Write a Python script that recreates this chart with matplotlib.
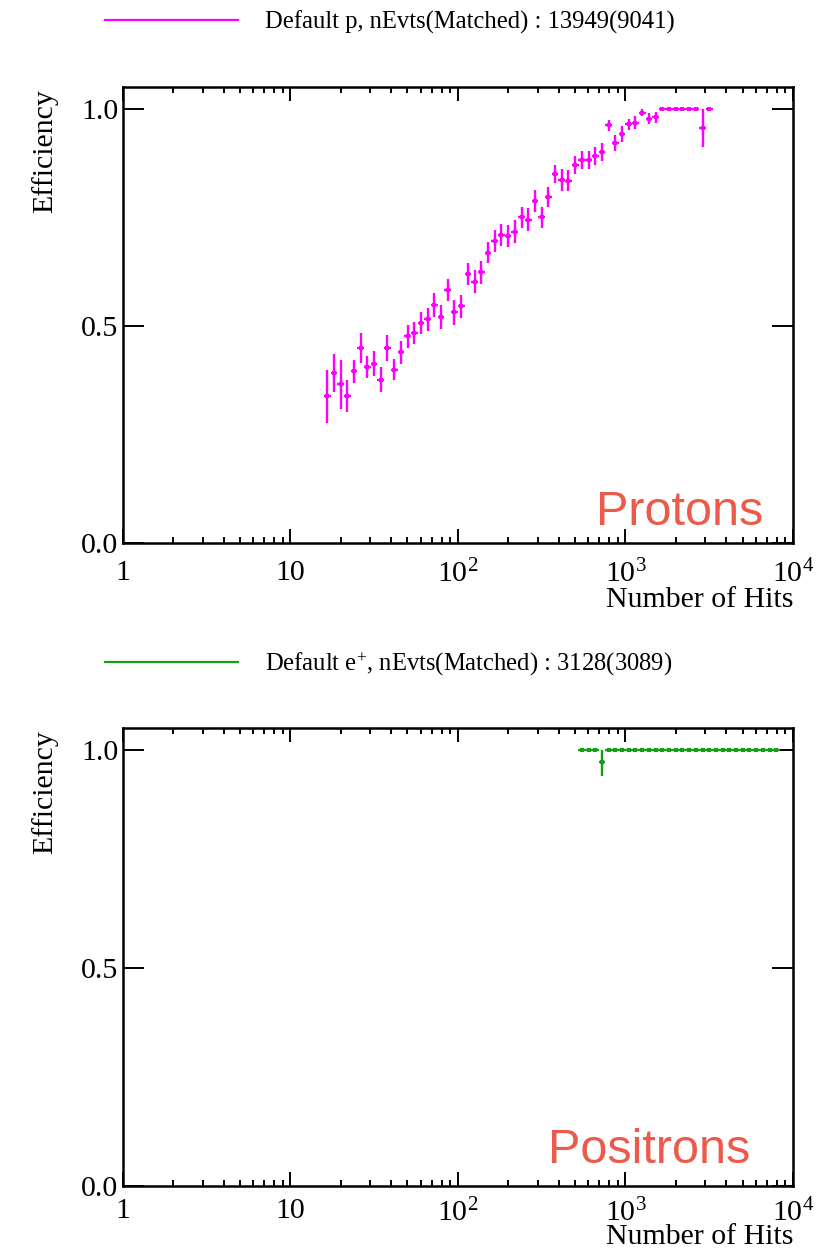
import numpy as np
import matplotlib
matplotlib.use('Agg')
import matplotlib.pyplot as plt
from matplotlib.lines import Line2D
from matplotlib.ticker import FixedLocator, FixedFormatter, LogLocator, NullLocator

# Times-like serif, as in the ROOT canvas
plt.rcParams['font.family'] = ['Liberation Serif', 'DejaVu Serif']
plt.rcParams['mathtext.fontset'] = 'custom'
plt.rcParams['mathtext.rm'] = 'Liberation Serif'
plt.rcParams['mathtext.it'] = 'Liberation Serif:italic'

# histogram binning: 25 log bins per decade
LOG_BIN = 0.04

# protons: bin centres (number of hits), efficiency, error
proton_hits = [16.60, 18.20, 19.95, 21.88, 23.99, 26.30, 28.84, 31.62, 34.67, 38.02,
               41.69, 45.71, 50.12, 54.95, 60.26, 66.07, 72.44, 79.43, 87.10, 95.50,
               104.7, 114.8, 125.9, 138.0, 151.4, 166.0, 182.0, 199.5, 218.8, 239.9,
               263.0, 288.4, 316.2, 346.7, 380.2, 416.9, 457.1, 501.2, 549.5, 602.6,
               660.7, 724.4, 794.3, 871.0, 955.0, 1047, 1148, 1259, 1380, 1514,
               1660, 1820, 1995, 2188, 2399, 2630, 2884, 3162]
proton_eff = [0.338, 0.391, 0.365, 0.338, 0.395, 0.449, 0.405, 0.413, 0.376, 0.449,
              0.399, 0.439, 0.476, 0.483, 0.506, 0.515, 0.548, 0.520, 0.583, 0.531,
              0.545, 0.619, 0.602, 0.623, 0.669, 0.696, 0.709, 0.707, 0.717, 0.750,
              0.745, 0.788, 0.750, 0.797, 0.850, 0.836, 0.835, 0.870, 0.883, 0.882,
              0.891, 0.901, 0.962, 0.921, 0.942, 0.965, 0.968, 0.991, 0.978, 0.981,
              1.0, 1.0, 1.0, 1.0, 1.0, 1.0, 0.956, 1.0]
proton_err = [0.061, 0.044, 0.057, 0.036, 0.027, 0.034, 0.026, 0.029, 0.028, 0.031,
              0.025, 0.026, 0.026, 0.026, 0.025, 0.027, 0.027, 0.027, 0.026, 0.028,
              0.027, 0.025, 0.027, 0.026, 0.025, 0.025, 0.025, 0.026, 0.026, 0.025,
              0.026, 0.025, 0.025, 0.024, 0.021, 0.025, 0.024, 0.021, 0.021, 0.021,
              0.021, 0.021, 0.013, 0.018, 0.018, 0.013, 0.015, 0.008, 0.013, 0.013,
              0.0, 0.0, 0.0, 0.0, 0.0, 0.0, 0.043, 0.0]

# positrons
positron_hits = [549.5, 602.6, 660.7, 724.4, 794.3, 871.0, 955.0, 1047, 1148, 1259,
                 1380, 1514, 1660, 1820, 1995, 2188, 2399, 2630, 2884, 3162,
                 3467, 3802, 4169, 4571, 5012, 5495, 6026, 6607, 7244, 7943]
positron_eff = [1.0, 1.0, 1.0, 0.971, 1.0, 1.0, 1.0, 1.0, 1.0, 1.0,
                1.0, 1.0, 1.0, 1.0, 1.0, 1.0, 1.0, 1.0, 1.0, 1.0,
                1.0, 1.0, 1.0, 1.0, 1.0, 1.0, 1.0, 1.0, 1.0, 1.0]
positron_err_lo = [0.0, 0.0, 0.0, 0.030] + [0.0] * 26
positron_err_hi = [0.0, 0.0, 0.0, 0.029] + [0.0] * 26

x_ticks = [1, 10, 100, 1000, 10000]
x_tick_labels = ['1', '10', '$10^{2}$', '$10^{3}$', '$10^{4}$']
y_ticks = [0.0, 0.5, 1.0]
y_tick_labels = ['0.0', '0.5', '1.0']

proton_label = 'Default p, nEvts(Matched) : 13949(9041)'
positron_label = 'Default e$^{+}$, nEvts(Matched) : 3128(3089)'

MAGENTA = '#ff00ff'
GREEN = '#14a014'
RED = '#ec5a4b'
FS = 21.5

W, H = 824, 1251
fig = plt.figure(figsize=(W / 100, H / 100), dpi=100)


def draw_panel(rect, hits, eff, err_lo, err_hi, color, name, name_pos, leg_y, leg_text,
               xtitle_off, xpad):
    ax = fig.add_axes(rect)
    hits = np.array(hits)
    xerr = [hits - hits * 10 ** (-LOG_BIN / 2), hits * 10 ** (LOG_BIN / 2) - hits]
    ax.errorbar(hits, eff, yerr=[err_lo, err_hi], xerr=xerr, fmt='s', ms=3.2, mew=0,
                color=color, ecolor=color, elinewidth=1.7, capsize=2.3, capthick=1.7)

    ax.set_xscale('log')
    ax.set_xlim(1, 1e4)
    ax.set_ylim(0, 1.05)
    ax.xaxis.set_major_locator(FixedLocator(x_ticks))
    ax.xaxis.set_major_formatter(FixedFormatter(x_tick_labels))
    ax.xaxis.set_minor_locator(LogLocator(base=10, subs=np.arange(2, 10)))
    ax.yaxis.set_major_locator(FixedLocator(y_ticks))
    ax.yaxis.set_major_formatter(FixedFormatter(y_tick_labels))
    ax.yaxis.set_minor_locator(NullLocator())

    ax.tick_params(which='both', direction='in', top=True, right=True, width=1.4,
                   labelsize=FS)
    ax.tick_params(axis='x', which='major', length=10, pad=xpad)
    ax.tick_params(axis='x', which='minor', length=4.3)
    ax.tick_params(axis='y', which='major', length=15, pad=3)
    for sp in ax.spines.values():
        sp.set_linewidth(1.8)

    # axis titles in ROOT placement
    l, b, w, h = rect
    fig.text(45 / W, b + h - 2 / H, 'Efficiency', rotation=90, ha='center', va='top',
             fontsize=FS)
    fig.text(l + w, b - xtitle_off / H, 'Number of Hits', ha='right', va='baseline',
             fontsize=FS)

    ax.text(name_pos[0], name_pos[1], name, transform=ax.transAxes, ha='right',
            va='baseline', color=RED, fontsize=35, family=['Liberation Sans', 'DejaVu Sans'])

    handle = Line2D([], [], color=color, lw=1.6)
    fig.legend(handles=[handle], labels=[leg_text], loc='center left',
               bbox_to_anchor=(105 / W, 1 - leg_y / H), bbox_transform=fig.transFigure,
               frameon=False, fontsize=17.7, borderpad=0, borderaxespad=0,
               handlelength=5.4, handletextpad=1.1)
    return ax


# top panel: protons
draw_panel([122.7 / W, 1 - 542.7 / H, (793 - 122.7) / W, (542.7 - 87.3) / H],
           proton_hits, proton_eff, proton_err, proton_err, MAGENTA,
           'Protons', (0.955, 0.039), 22, proton_label, 64, 12.5)

# bottom panel: positrons
draw_panel([122.7 / W, 1 - 1186 / H, (793 - 122.7) / W, (1186 - 728) / H],
           positron_hits, positron_eff, positron_err_lo, positron_err_hi, GREEN,
           'Positrons', (0.936, 0.050), 664, positron_label, 58.5, 9)

plt.savefig('out.png', dpi=100)
plt.close()
